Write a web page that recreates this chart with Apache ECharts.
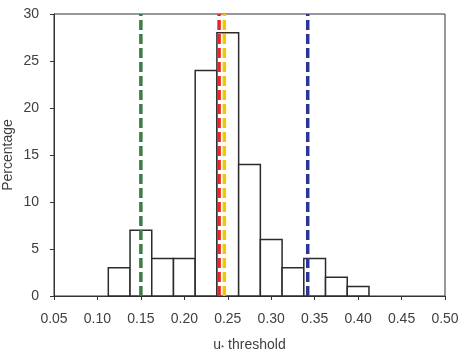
<!DOCTYPE html>
<html>
<head>
<meta charset="utf-8">
<script src="https://cdn.jsdelivr.net/npm/echarts@6/dist/echarts.min.js"></script>
<style>
  html, body { margin: 0; padding: 0; background: #fff; }
  #main { width: 459px; height: 356px; }
</style>
</head>
<body>
<div id="main"></div>
<script>
// histogram bin centres (u* threshold) and percentages
var binCenters = [0.125, 0.15, 0.175, 0.2, 0.225, 0.25, 0.275, 0.3, 0.325, 0.35, 0.375, 0.4];
var percents = [3, 7, 4, 4, 24, 28, 14, 6, 3, 4, 2, 1];
var binWidth = 0.025;
// vertical threshold lines
var lineNames = ['green', 'red', 'yellow', 'blue'];
var lineX = [0.15, 0.24, 0.246, 0.342];
var lineColors = ['#3b7d45', '#e3262c', '#f7c600', '#2a3596'];

var myChart = echarts.init(document.getElementById('main'));
var font = 'Liberation Sans, Arial, sans-serif';

var histData = binCenters.map(function (c, i) { return [c, percents[i]]; });

var series = [{
    type: 'custom',
    data: histData,
    z: 2,
    renderItem: function (params, api) {
        var x = api.value(0), v = api.value(1);
        var p0 = api.coord([x - binWidth / 2, v]);
        var p1 = api.coord([x + binWidth / 2, 0]);
        return {
            type: 'rect',
            shape: { x: p0[0], y: p0[1], width: p1[0] - p0[0], height: p1[1] - p0[1] },
            style: { fill: '#fff', stroke: '#2b2b2b', lineWidth: 1.5 }
        };
    }
}];

lineX.forEach(function (x, i) {
    series.push({
        type: 'line',
        name: lineNames[i],
        data: [[x, 0], [x, 30]],
        symbol: 'none',
        z: 5,
        lineStyle: { color: lineColors[i], width: 3.5, type: [10, 4] }
    });
});

option = {
    animation: false,
    grid: { left: 54, right: 14, top: 14, bottom: 60, containLabel: false, outerBoundsMode: 'none',
        show: true, borderColor: '#333', borderWidth: 1 },
    xAxis: {
        type: 'value',
        min: 0.05, max: 0.5, interval: 0.05,
        name: '{u|u}{s|*} threshold',
        nameLocation: 'middle',
        nameMoveOverlap: false,
        nameGap: 42,
        nameTextStyle: {
            fontFamily: font, fontSize: 14, color: '#404040',
            rich: {
                u: { fontFamily: font, fontSize: 14, color: '#404040' },
                s: { fontFamily: font, fontSize: 8, color: '#404040', verticalAlign: 'bottom', padding: [6, 0, 0, 0] }
            }
        },
        splitLine: { show: false },
        axisLine: { lineStyle: { color: '#333' } },
        axisTick: { length: 4, lineStyle: { color: '#333' } },
        axisLabel: { fontFamily: font, fontSize: 14, color: '#404040', margin: 16,
            formatter: function (v) { return v.toFixed(2); } }
    },
    yAxis: {
        type: 'value',
        min: 0, max: 30, interval: 5,
        name: 'Percentage',
        nameLocation: 'middle',
        nameMoveOverlap: false,
        nameGap: 39,
        nameTextStyle: { fontFamily: font, fontSize: 14, color: '#404040' },
        splitLine: { show: false },
        axisLine: { show: true, lineStyle: { color: '#333' } },
        axisTick: { show: true, length: 4, lineStyle: { color: '#333' } },
        axisLabel: { fontFamily: font, fontSize: 14, color: '#404040', margin: 15 }
    },
    series: series
};

myChart.setOption(option);
</script>
</body>
</html>
